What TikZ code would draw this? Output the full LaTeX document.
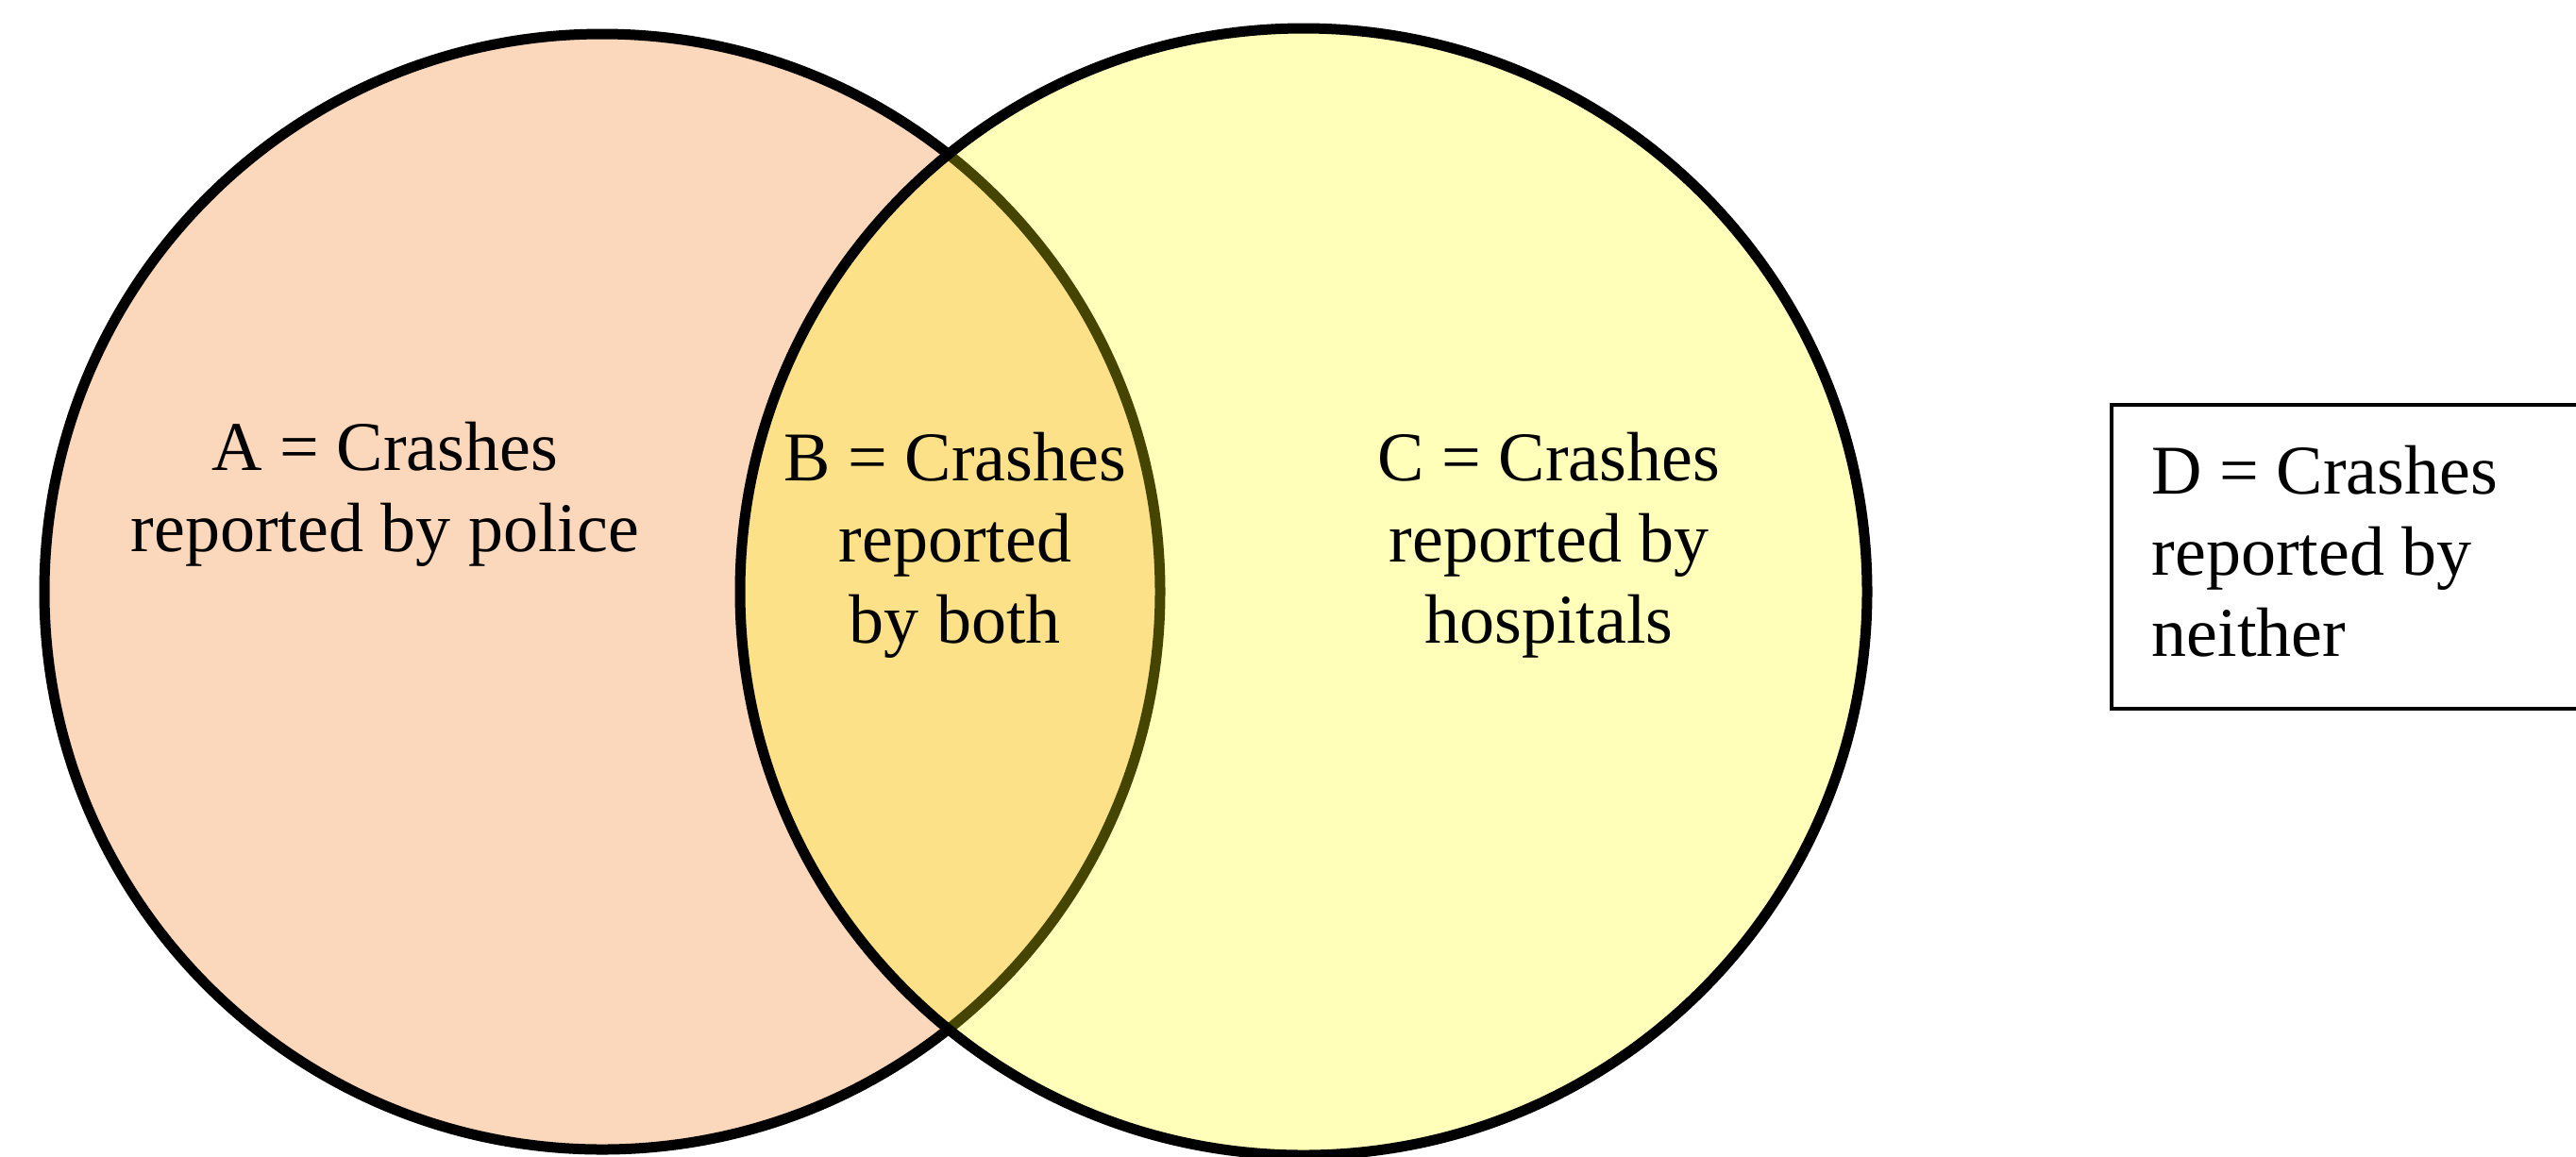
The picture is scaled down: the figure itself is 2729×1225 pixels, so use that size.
\documentclass[tikz,border=0pt]{standalone}
\usepackage{fontspec}
\setmainfont{Liberation Serif}
\definecolor{peach}{RGB}{251,215,187}
\definecolor{pureyellow}{RGB}{255,255,0}
\tikzset{
  setcircle/.style={line width=2.75pt, draw=black},
  label/.style={inner sep=0pt, align=center, font=\fontsize{18.5pt}{21.5pt}\selectfont},
  legendbox/.style={draw=black, line width=1pt}
}
\begin{document}
\begin{tikzpicture}[x=0.25pt,y=-0.25pt]
\useasboundingbox (0,0) rectangle (2729,1225);
\clip (0,0) rectangle (2729,1225);
\fill[white] (0,0) rectangle (2729,1225);
% left circle (police)
\path[setcircle, fill=peach] (638,627) circle[radius=591];
% right circle (hospitals), translucent yellow fill
\path[setcircle, fill=pureyellow, fill opacity=0.27] (1381,627) circle[radius=597];
% legend box for D
\draw[legendbox] (2237,429) rectangle (2760,751);
% labels
\node[label] (A) at (408,524) {A = Crashes\\reported by police};
\node[label] (B) at (1012,578) {B = Crashes\\reported\\by both};
\node[label] (C) at (1641,578) {C = Crashes\\reported by\\hospitals};
\node[label, align=left, anchor=west] (D) at (2279,584) {D = Crashes\\reported by\\neither};
\end{tikzpicture}
\end{document}
